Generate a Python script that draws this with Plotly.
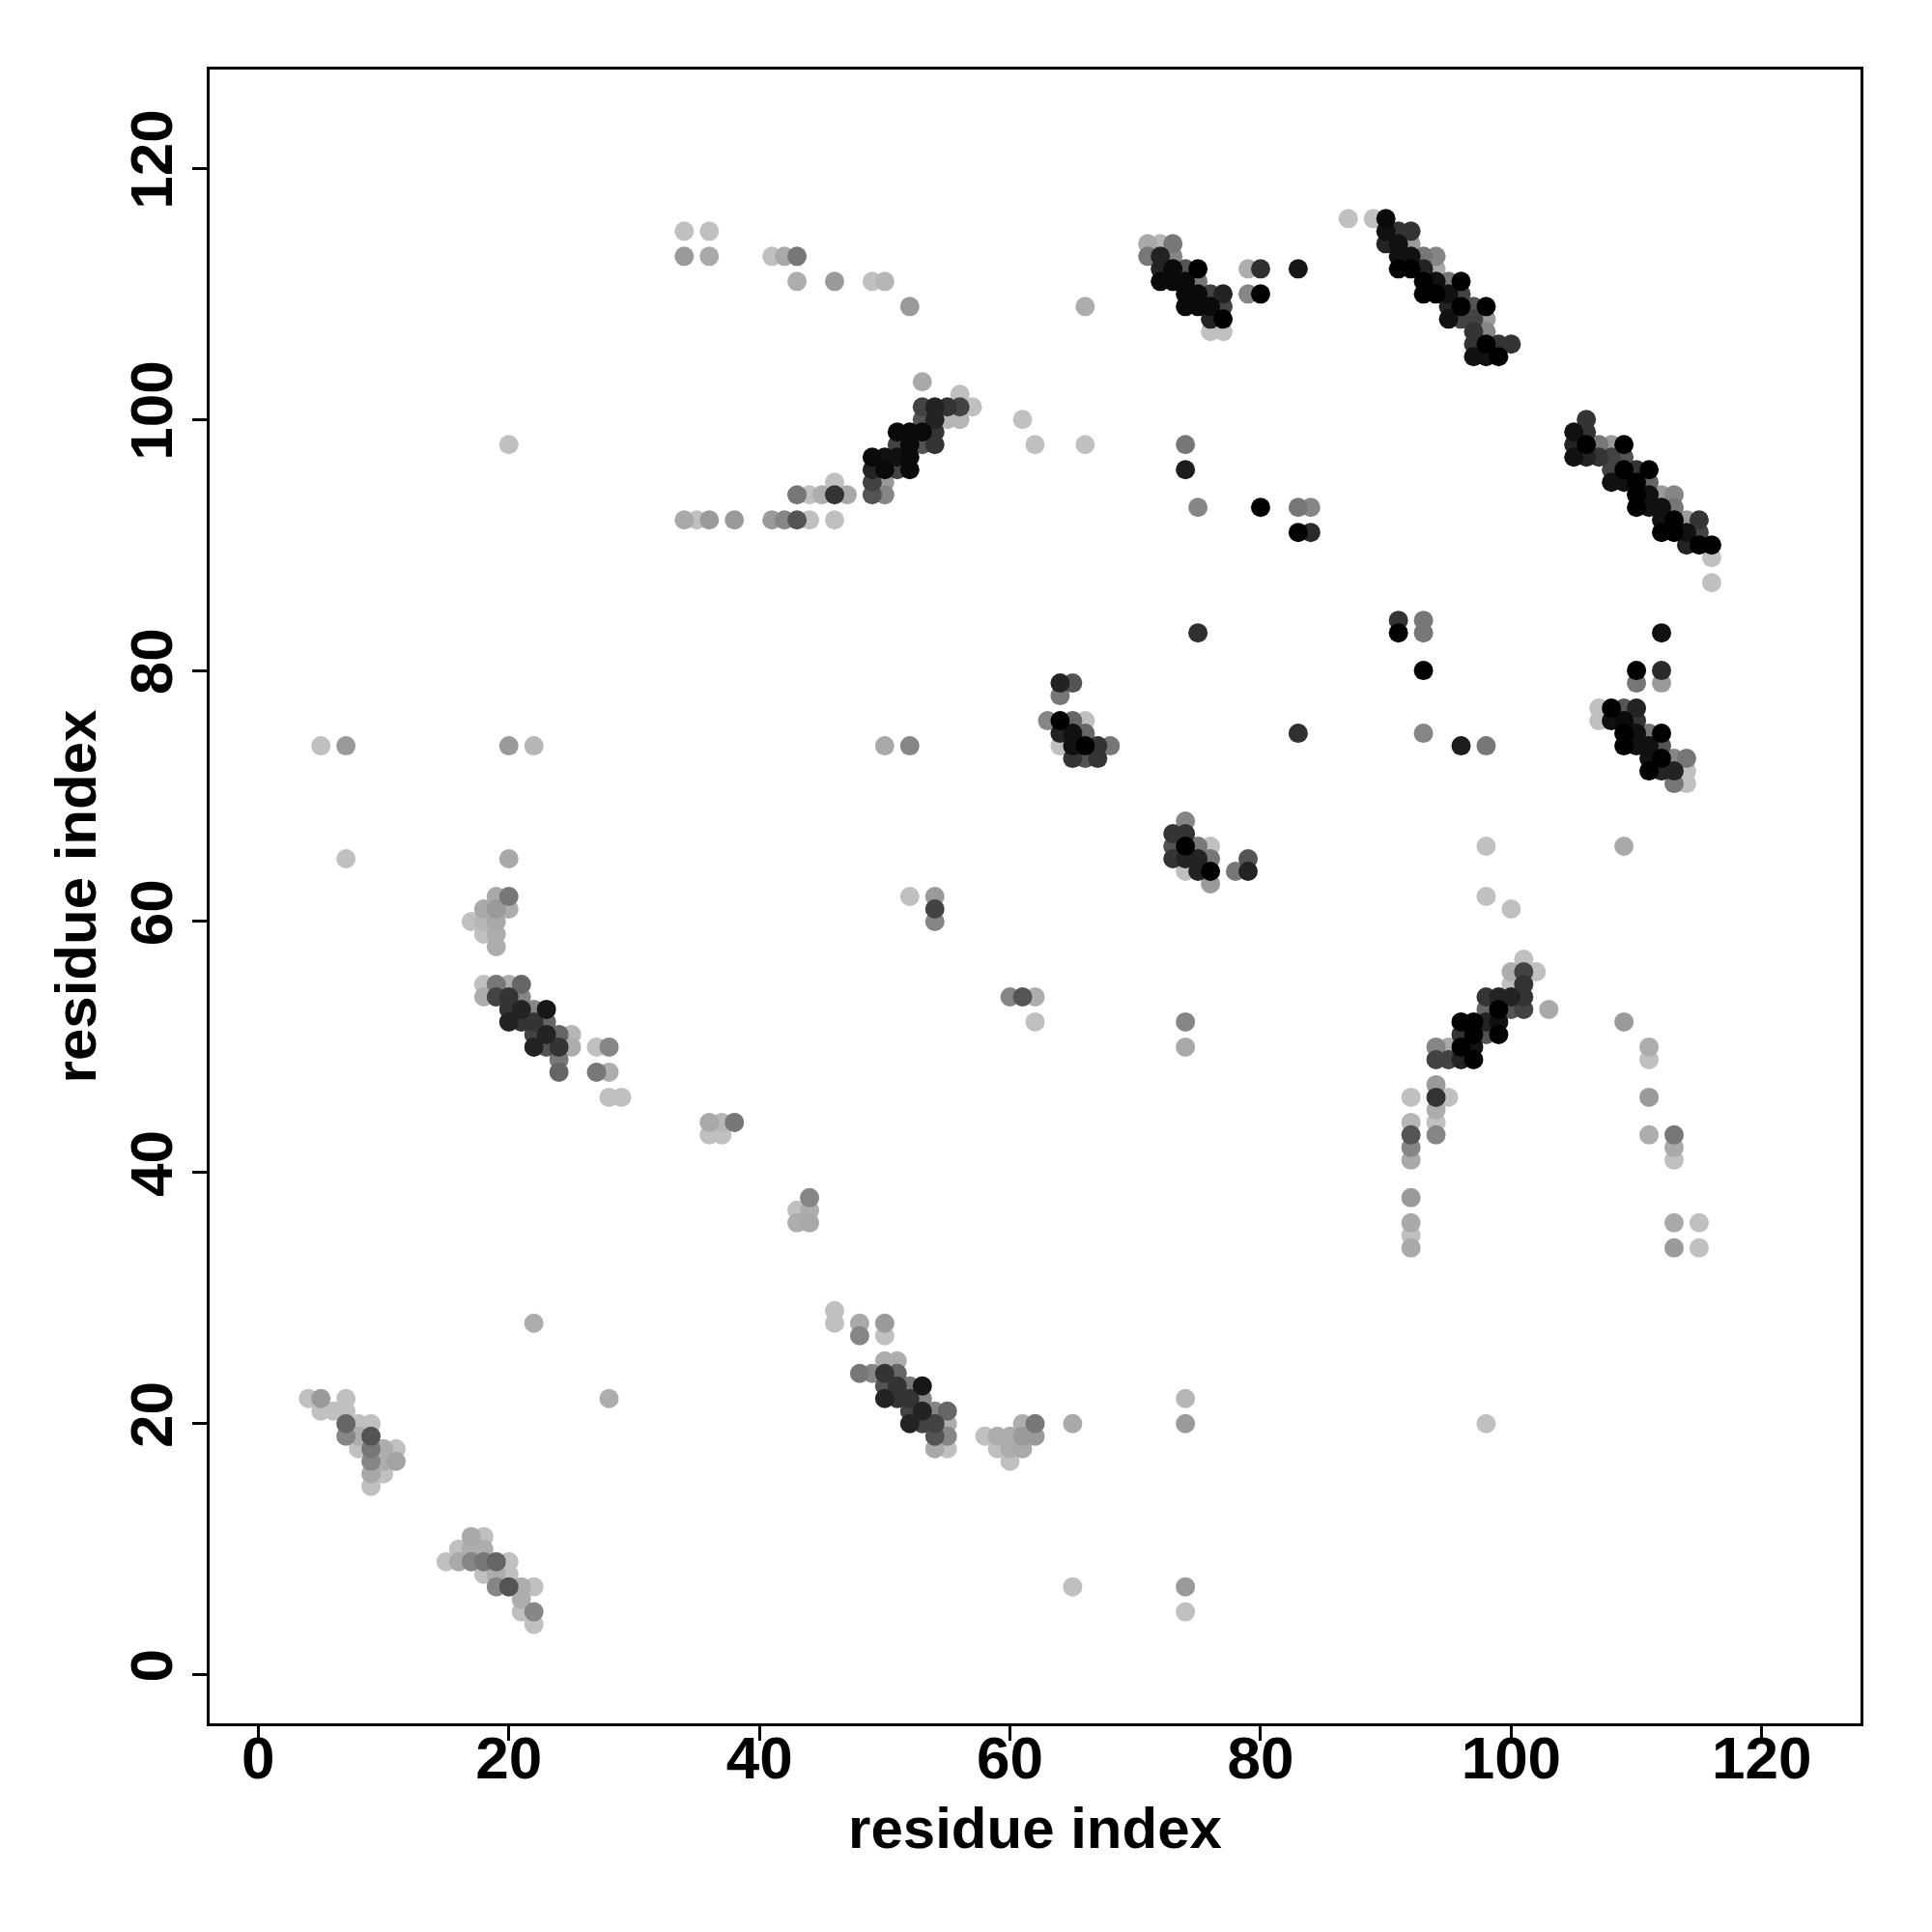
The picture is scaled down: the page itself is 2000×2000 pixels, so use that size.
import plotly.graph_objects as go

# contact points: residue i (x), residue j (y), contact score p (0 = weakest/lightest, 1 = strongest/black)
x_res = [
    4, 5, 7, 5, 6, 7, 7, 8, 9, 7, 8, 9, 8, 9, 10, 11, 9, 10, 11, 9, 10, 9,
    17, 18, 16, 17, 18, 15, 16, 17, 18, 19, 20, 18, 19, 20, 19, 20, 21, 22, 21, 21, 22, 22, 22, 28,
    5, 7, 20, 22, 7, 20, 19, 20, 18, 19, 20, 17, 18, 19, 18, 19, 19,
    18, 19, 20, 21, 18, 19, 20, 21, 20, 21, 22, 23, 20, 21, 22, 23, 22, 23, 24, 25, 22, 23, 24, 25,
    24, 24, 27, 28, 27, 28, 28, 29,
    34, 36, 34, 36, 41, 42, 43, 43, 46, 49, 50, 52, 53, 56, 57, 53, 54, 55, 56, 53, 54, 55, 56,
    51, 52, 53, 54, 51, 52, 53, 54, 49, 50, 51, 52, 49, 50, 51, 52, 49, 50, 46,
    43, 44, 45, 46, 47, 49, 50, 34, 35, 36, 38, 41, 42, 43, 44, 46, 20,
    87, 71, 72, 73, 71, 72, 73, 72, 73, 74, 75, 79, 80, 83, 72, 73, 74, 75, 74, 75, 76, 77, 79, 80,
    74, 75, 76, 77, 76, 77, 76, 77, 66, 61, 62, 66, 74, 74, 75, 80, 83, 84, 83, 84,
    89, 90, 90, 91, 92, 90, 91, 92, 91, 92, 93, 94, 91, 92, 93, 94, 93, 94, 95, 96, 93, 94, 95, 96,
    95, 96, 97, 98, 95, 96, 97, 98, 97, 98, 97, 98, 99, 100, 97, 98, 99,
    106, 105, 106, 105, 106, 107, 108, 109, 105, 106, 107, 108, 109, 108, 109, 110, 111,
    108, 109, 110, 111, 110, 111, 112, 113, 110, 111, 112, 113, 112, 113, 114, 115,
    112, 113, 114, 115, 114, 115, 116, 116, 116,
    91, 93, 91, 93, 93, 112, 110, 112, 110, 112, 93, 96, 98,
    107, 108, 109, 110, 107, 108, 109, 110, 109, 110, 111, 112, 109, 110, 111, 112,
    111, 112, 113, 114, 111, 112, 113, 114, 113, 114, 98, 109, 98, 100, 75, 83,
    101, 100, 101, 102, 100, 101, 98, 99, 100, 101, 98, 99, 100, 101, 103,
    96, 97, 98, 99, 96, 97, 98, 99, 94, 95, 96, 97, 94, 95, 96, 97, 94, 92, 94, 95, 94,
    92, 94, 92, 94, 92, 92, 92, 92, 92, 92,
    109, 111, 111, 111, 111, 113, 113, 113, 113, 115, 113, 115,
    46, 46, 48, 50, 48, 50, 50, 51, 48, 49, 50, 51, 50, 51, 52, 53, 50, 51, 52, 53,
    52, 53, 54, 55, 52, 53, 54, 55, 54, 55, 54, 55,
    58, 59, 60, 61, 62, 61, 62, 59, 60, 61, 60, 65, 74, 74, 65, 74, 74, 98,
    64, 65, 64, 63, 64, 65, 66, 64, 65, 66, 64, 65, 66, 67, 68, 65, 66, 67,
    50, 52, 52, 54, 54, 54, 60, 61, 62, 62,
    74, 73, 74, 73, 74, 75, 76, 73, 74, 75, 76, 79, 74, 75, 76, 78, 79, 76, 74, 74,
    36, 37, 38, 36, 37, 44, 43, 44, 43, 44,
]
y_res = [
    22, 22, 22, 21, 21, 21, 20, 20, 20, 19, 19, 19, 18, 18, 18, 18, 17, 17, 17, 16, 16, 15,
    11, 11, 10, 10, 10, 9, 9, 9, 9, 9, 9, 8, 8, 8, 7, 7, 7, 7, 6, 5, 5, 4, 28, 22,
    74, 74, 74, 74, 65, 65, 62, 62, 61, 61, 61, 60, 60, 60, 59, 59, 58,
    55, 55, 55, 55, 54, 54, 54, 54, 53, 53, 53, 53, 52, 52, 52, 52, 51, 51, 51, 51, 50, 50, 50, 50,
    49, 48, 50, 50, 48, 48, 46, 46,
    115, 115, 113, 113, 113, 113, 113, 111, 111, 111, 111, 109, 103, 102, 101, 101, 101, 101, 101, 100, 100, 100, 100,
    99, 99, 99, 99, 98, 98, 98, 98, 97, 97, 97, 97, 96, 96, 96, 96, 95, 95, 95,
    94, 94, 94, 94, 94, 94, 94, 92, 92, 92, 92, 92, 92, 92, 92, 92, 98,
    116, 114, 114, 114, 113, 113, 113, 112, 112, 112, 112, 112, 112, 112, 111, 111, 111, 111, 110, 110, 110, 110, 110, 110,
    109, 109, 109, 109, 108, 108, 107, 107, 109, 100, 98, 98, 98, 96, 93, 93, 93, 93, 91, 91,
    116, 116, 115, 115, 115, 114, 114, 114, 113, 113, 113, 113, 112, 112, 112, 112, 111, 111, 111, 111, 110, 110, 110, 110,
    109, 109, 109, 109, 108, 108, 108, 108, 107, 107, 106, 106, 106, 106, 105, 105, 105,
    100, 99, 99, 98, 98, 98, 98, 98, 97, 97, 97, 97, 97, 96, 96, 96, 96,
    95, 95, 95, 95, 94, 94, 94, 94, 93, 93, 93, 93, 92, 92, 92, 92,
    91, 91, 91, 91, 90, 90, 90, 89, 87,
    84, 84, 83, 83, 80, 83, 80, 80, 79, 79, 75, 74, 74,
    77, 77, 77, 77, 76, 76, 76, 76, 75, 75, 75, 75, 74, 74, 74, 74,
    73, 73, 73, 73, 72, 72, 72, 72, 71, 71, 66, 66, 62, 61, 83, 75,
    57, 56, 56, 56, 55, 55, 54, 54, 54, 54, 53, 53, 53, 53, 53,
    52, 52, 52, 52, 51, 51, 51, 51, 50, 50, 50, 50, 49, 49, 49, 49, 47, 46, 46, 46, 45,
    44, 44, 43, 43, 42, 41, 38, 36, 35, 34,
    52, 50, 49, 46, 43, 43, 42, 41, 36, 36, 34, 34,
    29, 28, 28, 28, 27, 27, 25, 25, 24, 24, 24, 24, 23, 23, 23, 23, 22, 22, 22, 22,
    21, 21, 21, 21, 20, 20, 20, 20, 19, 19, 18, 18,
    19, 19, 19, 19, 19, 20, 20, 18, 18, 18, 17, 20, 22, 20, 7, 7, 5, 20,
    79, 79, 78, 76, 76, 76, 76, 75, 75, 75, 74, 74, 74, 74, 74, 73, 73, 73,
    74, 74, 62, 62, 61, 60, 54, 54, 54, 52,
    68, 67, 67, 66, 66, 66, 66, 65, 65, 65, 65, 65, 64, 64, 64, 64, 64, 63, 52, 50,
    44, 44, 44, 43, 43, 38, 37, 37, 36, 36,
]
score = [
    0.0, 0.2, 0.0, 0.0, 0.0, 0.0, 0.47, 0.0, 0.0, 0.3, 0.1, 0.56, 0.0, 0.38, 0.1, 0.0, 0.3, 0.1, 0.15, 0.12, 0.0, 0.0,
    0.12, 0.0, 0.0, 0.1, 0.1, 0.0, 0.12, 0.3, 0.38, 0.47, 0.0, 0.0, 0.1, 0.0, 0.3, 0.56, 0.1, 0.0, 0.1, 0.0, 0.3, 0.0, 0.1, 0.1,
    0.0, 0.2, 0.2, 0.05, 0.0, 0.12, 0.12, 0.38, 0.12, 0.2, 0.1, 0.0, 0.05, 0.12, 0.0, 0.1, 0.1,
    0.0, 0.38, 0.1, 0.47, 0.1, 0.65, 0.73, 0.3, 0.73, 0.82, 0.3, 0.88, 0.82, 0.73, 0.73, 0.47, 0.65, 0.82, 0.47, 0.05, 0.82, 0.56, 0.73, 0.1,
    0.38, 0.47, 0.0, 0.3, 0.38, 0.1, 0.0, 0.0,
    0.0, 0.0, 0.2, 0.12, 0.0, 0.12, 0.38, 0.1, 0.2, 0.0, 0.05, 0.2, 0.12, 0.0, 0.0, 0.65, 0.82, 0.73, 0.65, 0.56, 0.82, 0.05, 0.05,
    0.95, 0.95, 0.95, 0.73, 0.65, 0.95, 0.56, 0.73, 0.95, 0.91, 0.91, 0.95, 0.82, 0.95, 0.65, 0.95, 0.65, 0.2, 0.0,
    0.38, 0.0, 0.1, 0.73, 0.12, 0.56, 0.3, 0.12, 0.0, 0.2, 0.2, 0.2, 0.3, 0.56, 0.0, 0.0, 0.0,
    0.0, 0.12, 0.05, 0.38, 0.38, 0.82, 0.3, 0.82, 0.95, 0.56, 1.0, 0.1, 0.75, 0.88, 0.95, 0.95, 0.95, 0.38, 0.95, 0.95, 0.65, 0.82, 0.3, 1.0,
    0.95, 0.95, 0.95, 0.65, 0.82, 1.0, 0.0, 0.0, 0.1, 0.0, 0.0, 0.0, 0.38, 0.85, 0.3, 1.0, 0.38, 0.3, 1.0, 0.78,
    0.0, 0.95, 0.91, 0.73, 0.73, 0.82, 0.91, 0.2, 0.91, 0.91, 0.38, 0.3, 1.0, 1.0, 0.82, 0.12, 1.0, 0.91, 0.38, 1.0, 1.0, 1.0, 0.91, 0.65,
    0.82, 1.0, 0.56, 1.0, 0.91, 0.65, 0.65, 0.2, 0.73, 0.3, 0.73, 1.0, 0.73, 0.73, 0.91, 0.91, 1.0,
    0.73, 0.91, 0.73, 0.82, 1.0, 0.38, 0.2, 1.0, 0.91, 0.82, 0.73, 0.65, 0.56, 0.65, 1.0, 0.73, 1.0,
    0.91, 0.91, 1.0, 0.47, 1.0, 0.91, 0.2, 0.3, 1.0, 0.91, 0.91, 0.38, 0.91, 1.0, 0.2, 0.73,
    1.0, 1.0, 0.91, 0.65, 0.82, 1.0, 1.0, 0.0, 0.0,
    0.73, 0.38, 1.0, 0.38, 1.0, 0.91, 1.0, 0.78, 0.38, 0.2, 0.3, 0.85, 0.38,
    0.0, 1.0, 0.56, 0.82, 0.0, 0.91, 0.95, 0.73, 1.0, 0.91, 0.38, 1.0, 1.0, 0.91, 0.91, 0.56,
    0.91, 1.0, 0.3, 0.38, 1.0, 0.82, 0.82, 0.0, 0.38, 0.0, 0.0, 0.12, 0.0, 0.0, 0.75, 0.75,
    0.0, 0.1, 0.65, 0.0, 0.0, 0.73, 0.73, 0.82, 0.82, 0.73, 0.47, 1.0, 0.56, 0.65, 0.12,
    1.0, 1.0, 0.82, 0.91, 0.73, 1.0, 0.56, 1.0, 0.3, 0.12, 1.0, 0.91, 0.65, 0.65, 0.82, 1.0, 0.2, 0.0, 0.73, 0.0, 0.1,
    0.05, 0.0, 0.56, 0.3, 0.3, 0.12, 0.2, 0.12, 0.0, 0.12,
    0.2, 0.1, 0.0, 0.2, 0.1, 0.38, 0.12, 0.0, 0.12, 0.0, 0.2, 0.0,
    0.0, 0.0, 0.12, 0.2, 0.3, 0.0, 0.1, 0.1, 0.38, 0.3, 0.73, 0.47, 0.56, 0.73, 0.38, 0.88, 0.82, 0.73, 0.73, 0.3,
    0.65, 0.82, 0.3, 0.47, 0.82, 0.65, 0.65, 0.1, 0.56, 0.3, 0.12, 0.0,
    0.0, 0.1, 0.1, 0.2, 0.2, 0.1, 0.38, 0.0, 0.1, 0.12, 0.0, 0.12, 0.05, 0.2, 0.0, 0.2, 0.0, 0.0,
    0.82, 0.56, 0.38, 0.3, 1.0, 0.47, 0.0, 0.82, 0.91, 0.47, 0.0, 0.91, 1.0, 0.73, 0.38, 0.73, 0.56, 0.73,
    0.12, 0.3, 0.0, 0.2, 0.65, 0.3, 0.3, 0.56, 0.1, 0.0,
    0.3, 0.73, 0.73, 0.56, 1.0, 0.38, 0.0, 0.73, 0.82, 0.82, 0.38, 0.56, 0.0, 0.82, 1.0, 0.38, 0.82, 0.2, 0.3, 0.12,
    0.12, 0.05, 0.38, 0.0, 0.0, 0.3, 0.0, 0.1, 0.1, 0.12,
]
x_ticks = [0, 20, 40, 60, 80, 100, 120]
y_ticks = [0, 20, 40, 60, 80, 100, 120]
axis_title = "residue index"

assert len(x_res) == len(y_res) == len(score), (len(x_res), len(y_res), len(score))

# draw weak contacts first so strong ones sit on top
order = sorted(range(len(score)), key=lambda i: score[i])
xs = [x_res[i] for i in order]
ys = [y_res[i] for i in order]
ps = [score[i] for i in order]

FONT = "Liberation Sans, Arial, Helvetica, sans-serif"

fig = go.Figure(go.Scatter(
    x=xs, y=ys, mode="markers",
    marker=dict(size=20, color=ps, cmin=0, cmax=1,
                colorscale=[[0, "#C0C0C0"], [1, "#000000"]],
                line=dict(width=0), showscale=False),
    hoverinfo="skip",
))

axis_common = dict(
    showgrid=False, zeroline=False,
    showline=True, mirror=True, linecolor="black", linewidth=3,
    ticks="outside", ticklen=15, tickwidth=3, tickcolor="black",
    tickfont=dict(family=FONT, size=62, color="black", weight="bold"),
)

fig.update_layout(
    width=2000, height=2000,
    margin=dict(l=209, r=82, t=64, b=224),
    paper_bgcolor="white", plot_bgcolor="white",
    showlegend=False,
    xaxis=dict(range=[-3.88, 127.88], tickvals=x_ticks, ticktext=[str(v) for v in x_ticks],
               title=dict(text=axis_title, font=dict(family=FONT, size=60, color="black", weight="bold"), standoff=18),
               ticklabelstandoff=-35, **axis_common),
    yaxis=dict(range=[-3.88, 127.88], tickvals=y_ticks, ticktext=[str(v) for v in y_ticks],
               tickangle=-90,
               title=dict(text=axis_title, font=dict(family=FONT, size=60, color="black", weight="bold"), standoff=4),
               ticklabelstandoff=-4, **axis_common),
)

fig.write_html("out.html")
